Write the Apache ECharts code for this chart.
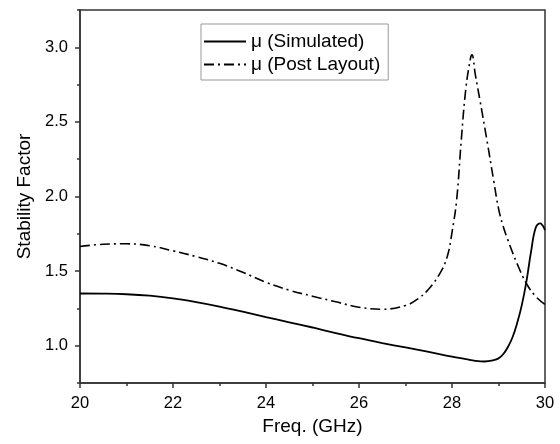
<!DOCTYPE html>
<html><head><meta charset="utf-8">
<script src="https://cdn.jsdelivr.net/npm/echarts@6/dist/echarts.min.js"></script>
<style>html,body{margin:0;padding:0;background:#fff}#c{width:560px;height:444px}</style>
</head><body><div id="c"></div>
<script>
var simFreq = [20, 20.5, 21, 21.5, 22, 22.5, 23, 23.5, 24, 24.5, 25, 25.5, 26, 26.5, 27, 27.5, 28, 28.3, 28.5, 28.7, 28.9, 29.0, 29.1, 29.2, 29.3, 29.4, 29.5, 29.6, 29.7, 29.8, 29.9, 29.95, 30];
var simValues = [1.35, 1.349, 1.345, 1.335, 1.317, 1.292, 1.262, 1.228, 1.192, 1.157, 1.122, 1.085, 1.05, 1.018, 0.988, 0.958, 0.926, 0.91, 0.899, 0.894, 0.903, 0.915, 0.943, 0.99, 1.055, 1.15, 1.27, 1.43, 1.63, 1.79, 1.82, 1.805, 1.775];
var postFreq = [20, 20.5, 21, 21.5, 22, 22.5, 23, 23.5, 24, 24.5, 25, 25.5, 26, 26.5, 27, 27.25, 27.5, 27.75, 27.9, 28, 28.1, 28.2, 28.3, 28.4, 28.43, 28.5, 28.6, 28.75, 28.9, 29, 29.1, 29.2, 29.4, 29.6, 29.8, 30];
var postValues = [1.665, 1.68, 1.683, 1.67, 1.636, 1.597, 1.552, 1.492, 1.425, 1.372, 1.332, 1.294, 1.258, 1.244, 1.27, 1.31, 1.38, 1.49, 1.6, 1.76, 1.977, 2.38, 2.73, 2.93, 2.95, 2.82, 2.647, 2.379, 2.1, 1.92, 1.8, 1.71, 1.55, 1.417, 1.33, 1.276];
var xTicks = [20, 22, 24, 26, 28, 30];
var yMajorTicks = [1.0, 1.5, 2.0, 2.5, 3.0];
var yMinorTicks = [0.75, 1.25, 1.75, 2.25, 2.75, 3.25];
var legendNames = ['\u03bc (Simulated)', '\u03bc (Post Layout)'];

function pairs(xs, ys) { return xs.map(function (x, i) { return [x, ys[i]]; }); }

var font = 'Liberation Sans, Arial, sans-serif';
var chart = echarts.init(document.getElementById('c'));
chart.setOption({
  animation: false,
  grid: { left: 80, right: 15, top: 10, bottom: 61, show: true, borderColor: '#333', borderWidth: 1.5, backgroundColor: 'transparent' },
  legend: {
    left: 201, top: 24, orient: 'vertical',
    data: legendNames,
    itemWidth: 42, itemHeight: 14, itemGap: 4,
    borderColor: '#999', borderWidth: 1, padding: [8, 8, 6, 2],
    itemStyle: { opacity: 0 },
    textStyle: { fontFamily: font, fontSize: 19, color: '#000' }
  },
  xAxis: {
    type: 'value', min: 20, max: 30, interval: 2,
    name: 'Freq. (GHz)', nameLocation: 'middle', nameGap: 32,
    nameTextStyle: { fontFamily: font, fontSize: 19, color: '#000' },
    axisLine: { lineStyle: { color: '#333', width: 1.5 } },
    axisTick: { show: true, length: 5, lineStyle: { color: '#333', width: 1.5 } },
    minorTick: { show: true, splitNumber: 2, length: 3, lineStyle: { color: '#333', width: 1.5 } },
    axisLabel: { fontFamily: font, fontSize: 16.5, color: '#000', margin: 12, customValues: xTicks },
    splitLine: { show: false }
  },
  yAxis: [{
    type: 'value', min: 0.75, max: 3.25,
    name: 'Stability Factor', nameLocation: 'middle', nameGap: 42,
    nameTextStyle: { fontFamily: font, fontSize: 19, color: '#000' },
    axisLine: { lineStyle: { color: '#333', width: 1.5 } },
    axisTick: { show: true, length: 5, customValues: yMajorTicks, lineStyle: { color: '#333', width: 1.5 } },
    axisLabel: { fontFamily: font, fontSize: 16.5, color: '#000', margin: 12, customValues: yMajorTicks, formatter: function (v) { return v.toFixed(1); } },
    splitLine: { show: false }
  }, {
    type: 'value', min: 0.75, max: 3.25, position: 'left',
    axisLine: { show: false },
    axisTick: { show: true, length: 3, customValues: yMinorTicks, lineStyle: { color: '#333', width: 1.5 } },
    axisLabel: { show: false },
    splitLine: { show: false }
  }],
  series: [{
    name: legendNames[0], type: 'line', symbol: 'none', smooth: 0.4,
    data: pairs(simFreq, simValues),
    lineStyle: { color: '#000', width: 1.8, type: 'solid' },
    itemStyle: { color: '#000' }
  }, {
    name: legendNames[1], type: 'line', symbol: 'none', smooth: 0.4,
    data: pairs(postFreq, postValues),
    lineStyle: { color: '#000', width: 1.6, type: [10, 4, 2, 4] },
    itemStyle: { color: '#000' }
  }]
});
</script></body></html>
